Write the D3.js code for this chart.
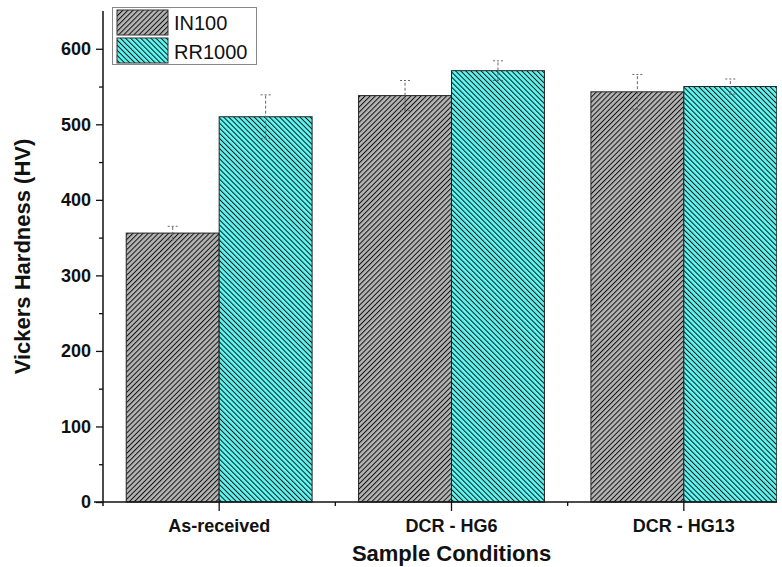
<!DOCTYPE html>
<html><head><meta charset="utf-8">
<script src="https://cdn.jsdelivr.net/npm/d3@7"></script>
<style>body{margin:0;background:#fff}svg{display:block}text{font-family:"Liberation Sans",Arial,sans-serif}</style>
</head><body><div id="c"></div>
<script>
const categories = ["As-received", "DCR - HG6", "DCR - HG13"];
const seriesNames = ["IN100", "RR1000"];
const in100 = [356, 538, 543];
const in100Err = [9, 20, 23];
const rr1000 = [510, 571, 550];
const rr1000Err = [29, 13, 10];
const yTicks = [0, 100, 200, 300, 400, 500, 600];

(function () {
const W = 782, H = 567;
const svg = d3.select("#c").append("svg").attr("width", W).attr("height", H);
const defs = svg.append("defs");
function pat(id, bg, angle) {
  const p = defs.append("pattern").attr("id", id).attr("patternUnits", "userSpaceOnUse")
    .attr("width", 3.6).attr("height", 10).attr("patternTransform", `rotate(${angle})`);
  p.append("rect").attr("width", 3.6).attr("height", 10).attr("fill", bg);
  p.append("line").attr("x1", 0.5).attr("x2", 0.5).attr("y1", 0).attr("y2", 10).attr("stroke", "#111").attr("stroke-width", 1.0);
}
pat("pIN", "#b4b4b4", 45);
pat("pRR", "#5cfaf6", -45);
const fills = ["url(#pIN)", "url(#pRR)"];

const mL = 103, mR = 800, mT = 11, mB = 502;
const x = d3.scaleBand().domain(categories).range([mL, mR]).paddingInner(0.2).paddingOuter(0.1);
const x1 = d3.scaleBand().domain(seriesNames).range([0, x.bandwidth()]);
const y = d3.scaleLinear().domain([0, 650]).range([mB, mT]);

const data = categories.map((c, i) => ({c, vals: [
  {s: seriesNames[0], v: in100[i], e: in100Err[i]},
  {s: seriesNames[1], v: rr1000[i], e: rr1000Err[i]}]}));

const clip = defs.append("clipPath").attr("id", "clipR");
clip.append("rect").attr("x", 0).attr("y", 0).attr("width", 777).attr("height", H);

const plot = svg.append("g").attr("clip-path", "url(#clipR)");
const g = plot.selectAll("g.cat").data(data).join("g").attr("class", "cat").attr("transform", d => `translate(${x(d.c)},0)`);
g.selectAll("rect").data(d => d.vals).join("rect")
  .attr("x", d => x1(d.s)).attr("width", x1.bandwidth())
  .attr("y", d => y(d.v)).attr("height", d => y(0) - y(d.v))
  .attr("fill", (d, i) => fills[i]).attr("stroke", "#222").attr("stroke-width", 1);

const eb = g.selectAll("g.eb").data(d => d.vals).join("g").attr("class", "eb")
  .attr("transform", d => `translate(${x1(d.s) + x1.bandwidth() / 2},0)`);
eb.append("line").attr("x1", 0).attr("x2", 0).attr("y1", d => y(d.v - d.e)).attr("y2", d => y(d.v + d.e))
  .attr("stroke", "#666").attr("stroke-width", 1).attr("stroke-dasharray", "3,2");
eb.append("line").attr("x1", -5).attr("x2", 5).attr("y1", d => y(d.v + d.e)).attr("y2", d => y(d.v + d.e))
  .attr("stroke", "#666").attr("stroke-width", 1).attr("stroke-dasharray", "2,2");
eb.append("line").attr("x1", -5).attr("x2", 5).attr("y1", d => y(d.v - d.e)).attr("y2", d => y(d.v - d.e))
  .attr("stroke", "#666").attr("stroke-width", 1).attr("stroke-dasharray", "2,2");

const yAxis = svg.append("g").attr("transform", `translate(${mL},0)`)
  .call(d3.axisLeft(y).tickValues(yTicks).tickSize(7).tickPadding(5).tickFormat(d3.format("d")));
yAxis.select(".domain").attr("d", `M0,${mT}V${mB + 4}`).attr("stroke", "#111").attr("stroke-width", 1.5);
yAxis.selectAll(".tick line").attr("stroke", "#111").attr("stroke-width", 1.3);
yAxis.selectAll(".tick text").attr("font-size", 18).attr("font-weight", "bold").attr("fill", "#111");
svg.append("g").attr("transform", `translate(${mL},0)`)
  .call(d3.axisLeft(y).tickValues(d3.range(50, 650, 100)).tickSize(4).tickFormat(""))
  .call(s => s.select(".domain").remove())
  .selectAll("line").attr("stroke", "#111").attr("stroke-width", 1.3);

const xAxis = svg.append("g").attr("transform", `translate(0,${mB})`)
  .call(d3.axisBottom(x).tickSize(9).tickPadding(8));
xAxis.select(".domain").attr("d", `M${mL - 9},0H777`).attr("stroke", "#111").attr("stroke-width", 1.5);
xAxis.selectAll(".tick line").attr("stroke", "#111").attr("stroke-width", 1.3);
xAxis.selectAll(".tick text").attr("font-size", 18).attr("font-weight", "bold").attr("fill", "#111");
const step = x.step();
const bounds = categories.slice(1).map(c => x(c) - step * x.paddingInner() / 2);
svg.append("g").selectAll("line").data(bounds).join("line")
  .attr("x1", d => d).attr("x2", d => d).attr("y1", mB).attr("y2", mB + 4)
  .attr("stroke", "#111").attr("stroke-width", 1.3);

svg.append("text").attr("x", (mL + mR) / 2).attr("y", 561).attr("text-anchor", "middle")
  .attr("font-size", 22).attr("font-weight", "bold").attr("fill", "#111").text("Sample Conditions");
svg.append("text").attr("transform", `translate(30,${(mT + mB) / 2}) rotate(-90)`).attr("text-anchor", "middle")
  .attr("font-size", 22).attr("font-weight", "bold").attr("fill", "#111").text("Vickers Hardness (HV)");

const lg = svg.append("g");
lg.append("rect").attr("x", 112.5).attr("y", 7.5).attr("width", 144).attr("height", 57)
  .attr("fill", "#fff").attr("stroke", "#888").attr("stroke-width", 1);
seriesNames.forEach((s, i) => {
  lg.append("rect").attr("x", 117).attr("y", 10 + i * 28).attr("width", 51).attr("height", 25)
    .attr("fill", fills[i]).attr("stroke", "#333").attr("stroke-width", 1);
  lg.append("text").attr("x", 174).attr("y", 30 + i * 29).attr("font-size", 20).attr("fill", "#111").text(s);
});
})();
</script></body></html>
